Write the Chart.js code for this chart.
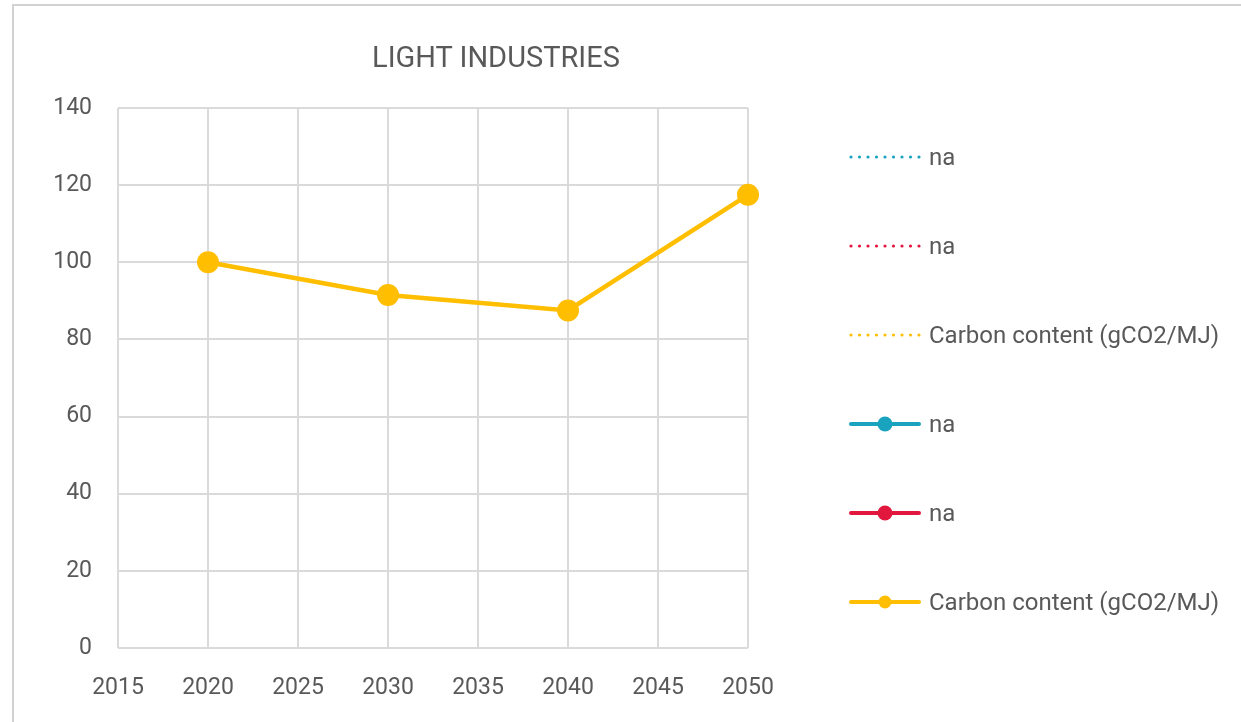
<!DOCTYPE html>
<html>
<head>
<meta charset="utf-8">
<title>Light Industries</title>
<script src="https://cdn.jsdelivr.net/npm/chart.js@4/dist/chart.umd.min.js"></script>
<style>
    body { margin: 0; background: #fff; font-family: Roboto, sans-serif; }
    #wrap { position: relative; width: 1241px; height: 722px; overflow: hidden; }
    #frame {
        position: absolute; left: 12px; top: 4px; right: 0; bottom: 0;
        border-top: 2px solid #d2d2d2; border-left: 2px solid #d2d2d2;
    }
    #chart { position: absolute; left: 0; top: 0; }
    #chartTitle {
        position: absolute; left: 0; top: 38px; width: 992px;
        text-align: center; line-height: 38px;
        font-size: 29px; color: #595959;
    }
    #legend { position: absolute; left: 849px; top: 112px; }
    .legend-row { display: flex; align-items: center; height: 89px; }
    .legend-row canvas { display: block; }
    .legend-row span { margin-left: 8px; font-size: 24px; color: #595959; }
</style>
</head>
<body>
<div id="wrap">
    <div id="frame"></div>
    <canvas id="chart" width="1241" height="722"></canvas>
    <div id="chartTitle">LIGHT INDUSTRIES</div>
    <div id="legend"></div>
</div>
<script>
// Light industries - carbon content per year
const years = [2020, 2030, 2040, 2050];
const carbonContent = [100, 91.5, 87.5, 117.5];

const seriesNames = ['na', 'na', 'Carbon content (gCO2/MJ)', 'na', 'na', 'Carbon content (gCO2/MJ)'];
const seriesColors = ['#19a3bf', '#e2173d', '#ffbe00', '#19a3bf', '#e2173d', '#ffbe00'];
const seriesDotted = [true, true, true, false, false, false];

const xTicks = { min: 2015, max: 2050, step: 5 };
const yTicks = { min: 0, max: 140, step: 20 };

const TEXT = '#595959';
const GRID = '#dadada';

// small canvas drawn in front of each legend label
function makeMarker(color, dotted, dotRadius) {
    const c = document.createElement('canvas');
    c.width = 72;
    c.height = 18;
    const g = c.getContext('2d');
    g.fillStyle = color;
    g.strokeStyle = color;
    if (dotted) {
        for (let i = 0; i < 9; i++) {
            g.beginPath();
            g.arc(2 + i * 8.5, 9, 1.6, 0, Math.PI * 2);
            g.fill();
        }
    } else {
        g.lineWidth = 4;
        g.lineCap = 'round';
        g.beginPath();
        g.moveTo(2, 9);
        g.lineTo(70, 9);
        g.stroke();
        g.beginPath();
        g.arc(36, 9, dotRadius, 0, Math.PI * 2);
        g.fill();
    }
    return c;
}

const datasets = seriesNames.map((name, i) => ({
    label: name,
    data: i === 5 ? years.map((x, j) => ({ x: x, y: carbonContent[j] })) : [],
    borderColor: seriesColors[i],
    backgroundColor: seriesColors[i],
    borderWidth: 4.5,
    borderDash: seriesDotted[i] ? [2, 6] : [],
    pointRadius: seriesDotted[i] ? 0 : 11,
    pointBorderWidth: 0,
    pointBackgroundColor: seriesColors[i],
    tension: 0,
    clip: false
}));

// legend rows
const legendDiv = document.getElementById('legend');
datasets.forEach((ds, i) => {
    const row = document.createElement('div');
    row.className = 'legend-row';
    row.appendChild(makeMarker(seriesColors[i], seriesDotted[i], i === 5 ? 6.5 : 7.5));
    const label = document.createElement('span');
    label.textContent = ds.label;
    row.appendChild(label);
    legendDiv.appendChild(row);
});

Chart.defaults.font.family = 'Roboto, sans-serif';
Chart.defaults.color = TEXT;

new Chart(document.getElementById('chart'), {
    type: 'line',
    data: { datasets: datasets },
    options: {
        responsive: false,
        animation: false,
        layout: { padding: { left: 0, right: 493, top: 108, bottom: 16 } },
        plugins: {
            legend: { display: false },
            tooltip: { enabled: false }
        },
        scales: {
            x: {
                type: 'linear',
                min: xTicks.min,
                max: xTicks.max,
                grid: { color: GRID, lineWidth: 2, drawTicks: false },
                border: { display: false },
                ticks: {
                    stepSize: xTicks.step,
                    padding: 26,
                    color: TEXT,
                    font: { size: 23 },
                    maxRotation: 0,
                    callback: (v) => String(v)
                },
                afterFit: (s) => { s.height = 58; }
            },
            y: {
                min: yTicks.min,
                max: yTicks.max,
                grid: { color: GRID, lineWidth: 2, drawTicks: false },
                border: { display: false },
                ticks: {
                    stepSize: yTicks.step,
                    padding: 26,
                    color: TEXT,
                    font: { size: 23 }
                },
                afterFit: (s) => { s.width = 118; }
            }
        }
    }
});
</script>
</body>
</html>
